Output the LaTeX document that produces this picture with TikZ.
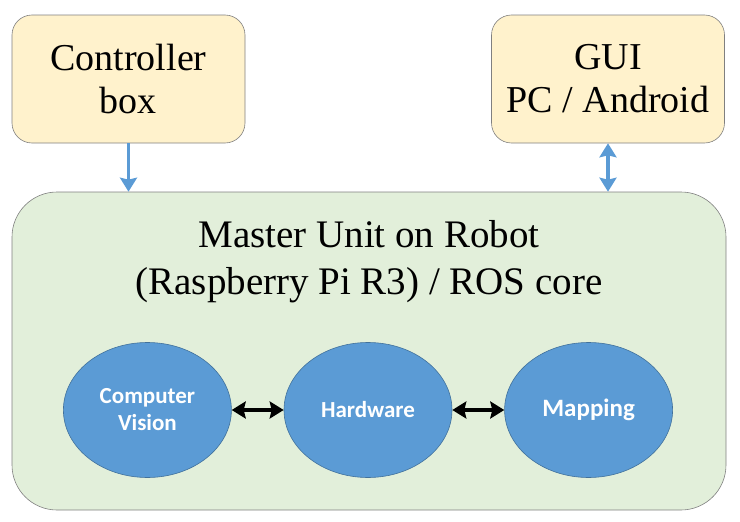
\documentclass[tikz,border=0pt]{standalone}
\usepackage{fontspec}
\setmainfont{Liberation Serif}
\newfontfamily\moduleFont{Carlito}
\usetikzlibrary{arrows.meta, positioning, shapes.geometric}
\definecolor{colorBox}{HTML}{FFF2CC}
\definecolor{colorMaster}{HTML}{E2EFDA}
\definecolor{colorModule}{HTML}{5B9BD5}
\definecolor{colorModuleBorder}{HTML}{41719C}
\definecolor{colorLink}{HTML}{5B9BD5}
\tikzset{
  outerBox/.style={draw=gray, fill=colorBox, rounded corners=20pt, minimum width=233pt, minimum height=128pt, align=center, font=\fontsize{38}{43}\selectfont},
  module/.style={ellipse, draw=colorModuleBorder, fill=colorModule, minimum width=168pt, minimum height=135pt, inner sep=0pt, text=white, align=center},
  bigTip/.tip={Stealth[length=14pt, width=17pt, inset=2pt]}
}

\begin{document}
\begin{tikzpicture}[x=1pt, y=-1pt, line width=3.5pt, node distance=52pt]
\useasboundingbox (0,0) rectangle (740,522);
\node[outerBox, line width=0.6pt] (ctrl) at (128.5,79) {Controller\\box};
\node[outerBox, line width=0.6pt] (gui) at (608,79) {GUI\\PC / Android};
\node[draw=gray, fill=colorMaster, rounded corners=45pt, minimum width=714pt, minimum height=318pt, line width=0.6pt] (master) at (369,351) {};
\node[align=center, font=\fontsize{39}{47}\selectfont] (title) at (369,262) {Master Unit on Robot\\(Raspberry Pi R3) / ROS core};
\node[module, line width=0.6pt, font=\moduleFont\bfseries\fontsize{23}{27}\selectfont] (hw) at (368,410) {Hardware};
\node[module, line width=0.6pt, left=of hw, font=\moduleFont\bfseries\fontsize{23}{27}\selectfont] (cv) {Computer\\Vision};
\node[module, line width=0.6pt, right=of hw, font=\moduleFont\bfseries\fontsize{25}{27}\selectfont] (map) {Mapping};
\draw [-bigTip, colorLink] (ctrl) -- (ctrl |- master.north);
\draw [bigTip-bigTip, colorLink] (gui) -- (gui |- master.north);
\draw [bigTip-bigTip, black] (cv) -- (hw);
\draw [bigTip-bigTip, black] (hw) -- (map);
\end{tikzpicture}
\end{document}
